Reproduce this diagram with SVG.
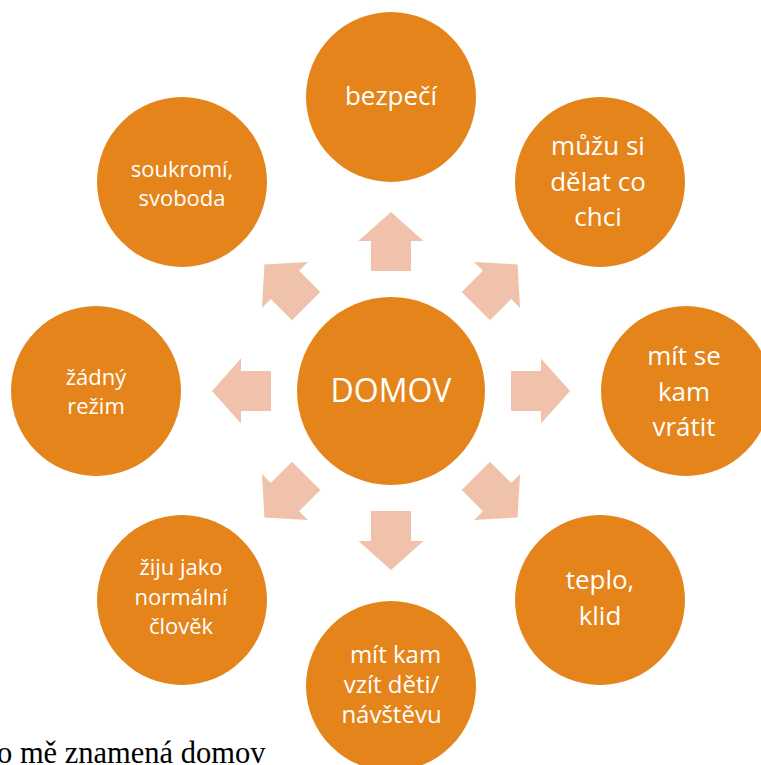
<svg xmlns="http://www.w3.org/2000/svg" width="761" height="765" viewBox="0 0 761 765">
  <defs>
    <style>
      .node circle { fill: #E5841A; }
      .node text { fill: #FFFFFF; font-family: "Open Sans", "Liberation Sans", sans-serif; text-anchor: middle; }
      .lg { font-size: 26px; }
      .md { font-size: 24px; }
      .sm { font-size: 22px; }
      .ctr { font-size: 32px; }
      .arrow { fill: #F0C2AB; }
      .caption { font-family: "Liberation Serif", "Times New Roman", serif; font-size: 30.5px; fill: #000000; }
    </style>
    <path id="arr" d="M391,212 L423.5,241 L411,241 L411,271 L371,271 L371,241 L358.5,241 Z"/>
  </defs>
  <rect width="761" height="765" fill="#FFFFFF"/>

  <g id="connectors">
    <use href="#arr" class="arrow" transform="rotate(0 391 391)"/>
    <use href="#arr" class="arrow" transform="rotate(45 391 391)"/>
    <use href="#arr" class="arrow" transform="rotate(90 391 391)"/>
    <use href="#arr" class="arrow" transform="rotate(135 391 391)"/>
    <use href="#arr" class="arrow" transform="rotate(180 391 391)"/>
    <use href="#arr" class="arrow" transform="rotate(225 391 391)"/>
    <use href="#arr" class="arrow" transform="rotate(270 391 391)"/>
    <use href="#arr" class="arrow" transform="rotate(315 391 391)"/>
  </g>

  <g id="domov" class="node">
    <circle cx="391" cy="391" r="94"/>
    <text class="ctr" x="391" y="402">DOMOV</text>
  </g>

  <g id="bezpeci" class="node">
    <circle cx="391" cy="97" r="85"/>
    <text class="lg" x="391" y="105">bezpečí</text>
  </g>

  <g id="muzu" class="node">
    <circle cx="600" cy="182" r="85"/>
    <text class="lg" x="598" y="155">můžu si</text>
    <text class="lg" x="598" y="190.5">dělat co</text>
    <text class="lg" x="598" y="226">chci</text>
  </g>

  <g id="mit-se" class="node">
    <circle cx="686" cy="391" r="85"/>
    <text class="lg" x="684" y="365">mít se</text>
    <text class="lg" x="684" y="400.5">kam</text>
    <text class="lg" x="684" y="436">vrátit</text>
  </g>

  <g id="teplo" class="node">
    <circle cx="600" cy="600" r="85"/>
    <text class="lg" x="600" y="589">teplo,</text>
    <text class="lg" x="600" y="625">klid</text>
  </g>

  <g id="mit-kam" class="node">
    <circle cx="391" cy="686" r="85"/>
    <text class="md" x="395.5" y="663">mít kam</text>
    <text class="md" x="391.5" y="693">vzít děti/</text>
    <text class="md" x="391.5" y="723">návštěvu</text>
  </g>

  <g id="ziju" class="node">
    <circle cx="182" cy="600" r="85"/>
    <text class="sm" x="181" y="575">žiju jako</text>
    <text class="sm" x="181" y="605">normální</text>
    <text class="sm" x="181" y="634">člověk</text>
  </g>

  <g id="zadny" class="node">
    <circle cx="96" cy="391" r="85"/>
    <text class="sm" x="96" y="385">žádný</text>
    <text class="sm" x="96" y="414">režim</text>
  </g>

  <g id="soukromi" class="node">
    <circle cx="182" cy="182" r="85"/>
    <text class="sm" x="182" y="177">soukromí,</text>
    <text class="sm" x="182" y="206">svoboda</text>
  </g>

  <text class="caption" x="-3" y="763">o mě znamená domov</text>
</svg>
